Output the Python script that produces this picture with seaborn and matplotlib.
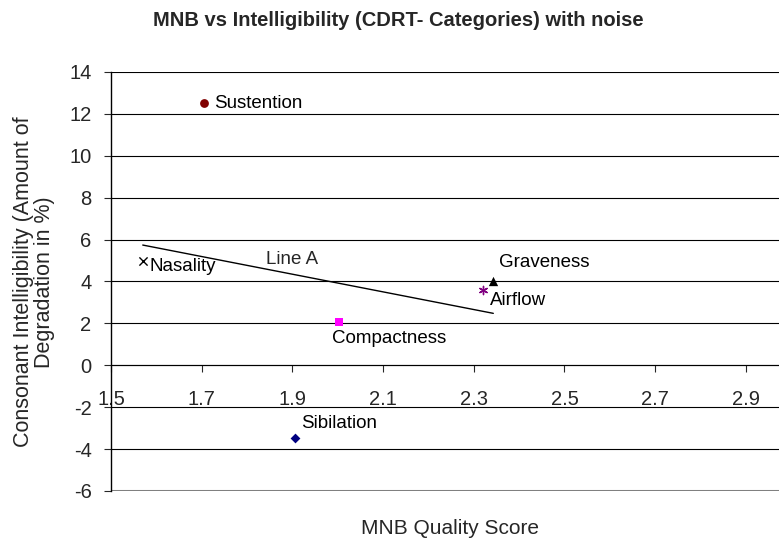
import matplotlib
matplotlib.use('Agg')
import matplotlib.pyplot as plt
import seaborn as sns
import pandas as pd

# categories and values
categorias = ['Sustention', 'Nasality', 'Compactness', 'Airflow', 'Graveness', 'Sibilation']
mnb = [1.706, 1.57, 2.003, 2.32, 2.343, 1.906]
degradacao = [12.5, 5.0, 2.08, 3.6, 4.04, -3.46]
marcadores = ['o', 'x', 's', (6, 2, 0), '^', 'D']
cores = ['#800000', '#000000', '#FF00FF', '#800080', '#000000', '#000080']
tamanhos = [40, 35, 40, 35, 45, 25]

linha_x = [1.57, 2.343]
linha_y = [5.74, 2.48]

y_ticks = list(range(-6, 15, 2))
x_ticks = [1.5, 1.7, 1.9, 2.1, 2.3, 2.5, 2.7, 2.9]

sns.set_style('white')
plt.rcParams['font.family'] = ['Liberation Sans', 'DejaVu Sans']
plt.rcParams['axes.unicode_minus'] = False

fig = plt.figure(figsize=(7.79, 5.44), dpi=100)
ax = fig.add_axes([111 / 779, 1 - 491 / 544, 1 - 111 / 779, (491 - 72) / 544])

df = pd.DataFrame({'cat': categorias, 'x': mnb, 'y': degradacao})

# grid lines first
for yv in y_ticks:
    ax.axhline(yv, color='black', lw=0.8, zorder=0)
ax.axhline(-6, color='#808080', lw=2.2, zorder=1)

sns.lineplot(x=linha_x, y=linha_y, color='black', lw=1, ax=ax, zorder=2)

for i, row in df.iterrows():
    lw = 1.0 if marcadores[i] in ('x', (6, 2, 0)) else 0
    sns.scatterplot(x=[row['x']], y=[row['y']], marker=marcadores[i], color=cores[i],
                    s=tamanhos[i], linewidth=lw, edgecolor=cores[i], ax=ax, zorder=3)

# labels next to points
offsets = {
    'Sustention': (7, 0),
    'Nasality': (5, -4),
    'Compactness': (-5, -12),
    'Airflow': (5, -8),
    'Graveness': (4, 13),
    'Sibilation': (4, 10),
}
for i, row in df.iterrows():
    dx, dy = offsets[row['cat']]
    ax.annotate(row['cat'], (row['x'], row['y']), xytext=(dx, dy), textcoords='offset points',
                ha='left', va='center', fontsize=13.5, color='black')

ax.text(1.9, 5.05, 'Line A', fontsize=13.5, ha='center', va='center')

ax.set_xlim(1.5, 2.973)
ax.set_ylim(-6, 14)
ax.set_yticks(y_ticks)
ax.set_xticks(x_ticks)
ax.set_xticklabels([f'{v:.1f}' for v in x_ticks])

for s in ['top', 'right']:
    ax.spines[s].set_visible(False)
ax.spines['bottom'].set_position(('data', 0))
ax.spines['bottom'].set_color('black')
ax.spines['bottom'].set_linewidth(0.8)
ax.spines['left'].set_color('black')
ax.spines['left'].set_linewidth(1)
ax.spines['left'].set_zorder(4)

ax.tick_params(axis='x', direction='out', length=5, width=0.8, pad=13, labelsize=14.5, bottom=True)
ax.tick_params(axis='y', direction='out', length=5, width=0.8, pad=9, labelsize=14.5, left=True)

fig.text(398 / 779, 1 - 20 / 544, 'MNB vs Intelligibility (CDRT- Categories) with noise',
         ha='center', va='center', fontsize=14.5, fontweight='bold')
fig.text(450 / 779, 1 - 529 / 544, 'MNB Quality Score', ha='center', va='center', fontsize=15)
fig.text(34 / 779, 1 - 282 / 544, 'Consonant Intelligibility (Amount of\nDegradation in %)',
         ha='center', va='center', rotation=90, fontsize=15.5, linespacing=1.0)

fig.savefig('out.png', dpi=100)
